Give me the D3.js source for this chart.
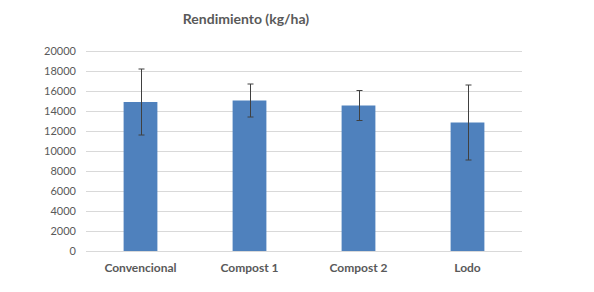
<!DOCTYPE html>
<html><head><meta charset="utf-8">
<script src="https://cdn.jsdelivr.net/npm/d3@7"></script>
<style>body{margin:0;background:#fff}svg{display:block}</style>
</head><body>
<svg id="c" width="594" height="292"></svg>
<script>
const categories = ["Convencional", "Compost 1", "Compost 2", "Lodo"];
const values = [14900, 15050, 14550, 12850];
const errors = [3300, 1650, 1500, 3750];
const yTicks = [0, 2000, 4000, 6000, 8000, 10000, 12000, 14000, 16000, 18000, 20000];
const title = "Rendimiento (kg/ha)";

const svg = d3.select("#c");
const font = "Lato, 'Open Sans', sans-serif";
const x = d3.scaleBand().domain(categories).range([86, 522]).paddingInner(0.69).paddingOuter(0.345);
const y = d3.scaleLinear().domain([0, 20000]).range([251, 51]);

svg.append("g").selectAll("line").data(yTicks).join("line")
  .attr("x1", 86).attr("x2", 522)
  .attr("y1", d => Math.round(y(d)) + 0.5).attr("y2", d => Math.round(y(d)) + 0.5)
  .attr("stroke", "#d9d9d9").attr("stroke-width", 1);

svg.append("g").selectAll("text").data(yTicks).join("text")
  .attr("x", 76).attr("y", d => y(d)).attr("dy", "0.35em")
  .attr("text-anchor", "end").attr("font-family", font).attr("font-size", 11)
  .attr("fill", "#595959").text(d => d);

svg.append("g").selectAll("rect").data(categories).join("rect")
  .attr("x", d => x(d)).attr("width", x.bandwidth())
  .attr("y", (d, i) => y(values[i])).attr("height", (d, i) => y(0) - y(values[i]))
  .attr("fill", "#4f81bd");

const eb = svg.append("g").attr("stroke", "#404040").attr("stroke-width", 1);
categories.forEach((c, i) => {
  const cx = Math.round(x(c) + x.bandwidth() / 2) + 0.5;
  const t = y(values[i] + errors[i]), b = y(values[i] - errors[i]);
  eb.append("line").attr("x1", cx).attr("x2", cx).attr("y1", t).attr("y2", b);
  eb.append("line").attr("x1", cx - 3).attr("x2", cx + 3).attr("y1", t).attr("y2", t);
  eb.append("line").attr("x1", cx - 3).attr("x2", cx + 3).attr("y1", b).attr("y2", b);
});

svg.append("g").selectAll("text").data(categories).join("text")
  .attr("x", d => x(d) + x.bandwidth() / 2).attr("y", 268).attr("dy", "0.35em")
  .attr("text-anchor", "middle").attr("font-family", font).attr("font-size", 12)
  .attr("font-weight", "bold").attr("fill", "#595959").text(d => d);

svg.append("text").attr("x", 246).attr("y", 19).attr("dy", "0.35em")
  .attr("text-anchor", "middle").attr("font-family", font).attr("font-size", 14)
  .attr("font-weight", "bold").attr("fill", "#595959").text(title);
</script>
</body></html>
